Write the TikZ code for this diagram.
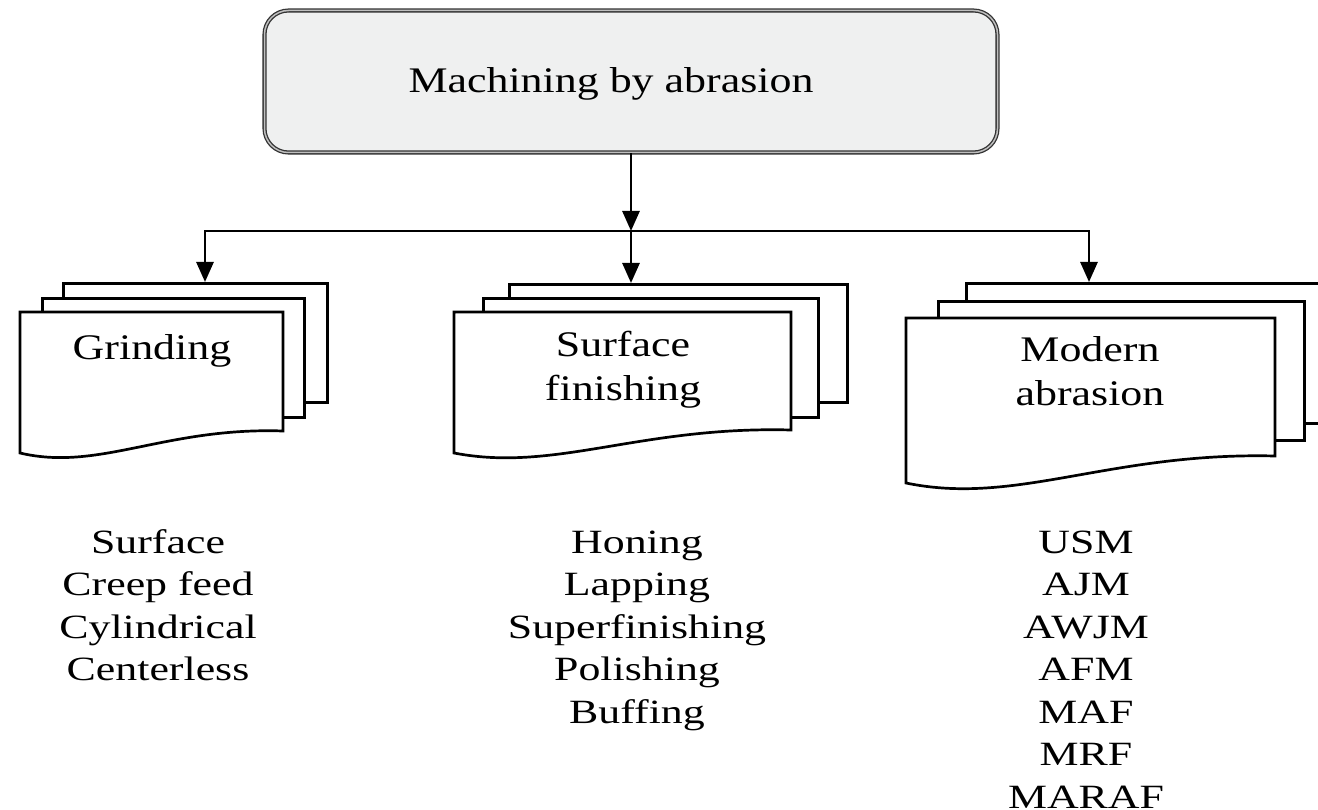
\documentclass[tikz,border=0pt]{standalone}
\usepackage{fontspec}
\setmainfont{Liberation Serif}[FakeStretch=1.29]
\newfontfamily\headfont{Liberation Serif}[FakeStretch=1.22]
\usetikzlibrary{arrows.meta}
\definecolor{boxfill}{HTML}{EFF0F0}

% front sheet of a document stack: left, top, right, bottom-right y, bottom-left y
\newcommand\frontsheet[5]{%
  \draw[page] (#1,#2) -- (#3,#2) -- (#3,#4)
    .. controls ({#1+0.55*(#3-#1)},{#4-4}) and ({#1+0.3*(#3-#1)},{#5+0.85*(#5-#4)}) .. (#1,#5) -- cycle;}

\begin{document}
\begin{tikzpicture}[x=1pt,y=-1pt,
  page/.style={draw=black, fill=white, line width=2.7pt, line join=miter},
  sheet/.style={page, inner sep=0pt, anchor=north west},
  topbox/.style={draw=black!80, double=gray!50, double distance=1.5pt, line width=1.3pt,
                 fill=boxfill, rounded corners=24pt, inner sep=0pt},
  conn/.style={line width=2.7pt, -{Triangle[length=20pt,width=17pt]}},
  headtext/.style={font=\headfont\fontsize{36}{44}\selectfont, align=center, anchor=base},
  listtext/.style={font=\fontsize{34}{42.5}\selectfont, align=center, anchor=base}]
\useasboundingbox (0,0) rectangle (1318,810);
\clip (0,0) rectangle (1318,810);

% root
\node[topbox, minimum width=733pt, minimum height=142pt] (top) at (631,81.5) {};
\node[headtext] (title) at (611,93) {Machining by abrasion};

% Grinding stack
\node[sheet, minimum width=264pt, minimum height=119pt] (g3) at (62,282) {};
\node[sheet, minimum width=262pt, minimum height=119pt] (g2) at (41,297) {};
\frontsheet{20}{312}{283}{431}{453}
\node[headtext] (gname) at (152,360) {Grinding};

% Surface finishing stack
\node[sheet, minimum width=338pt, minimum height=118pt] (s3) at (508,283) {};
\node[sheet, minimum width=335pt, minimum height=119pt] (s2) at (482,297) {};
\frontsheet{454}{312}{791}{430}{453}
\node[headtext] (sname) at (623,401) {Surface\\finishing};

% Modern abrasion stack
\node[sheet, minimum width=366pt, minimum height=140pt] (m3) at (965,282) {};
\node[sheet, minimum width=366pt, minimum height=139pt] (m2) at (937,300) {};
\frontsheet{906}{318}{1275}{456}{483}
\node[headtext] (mname) at (1090,406) {Modern\\abrasion};

% connectors
\coordinate (split) at (631,231);
\coordinate (gIn) at (205,282);
\coordinate (sIn) at (631,283);
\coordinate (mIn) at (1089,282);
\draw[conn] (top.south) -- (split);
\draw[conn] (split) -| (gIn);
\draw[conn] (split) -- (sIn);
\draw[conn] (split) -| (mIn);

% process lists (anchored at the baseline of their last line)
\node[listtext] (glist) at (158,680.5) {Surface\\Creep feed\\Cylindrical\\Centerless};
\node[listtext] (slist) at (637,723) {Honing\\Lapping\\Superfinishing\\Polishing\\Buffing};
\node[listtext] (mlist) at (1086,808) {USM\\AJM\\AWJM\\AFM\\MAF\\MRF\\MARAF};
\end{tikzpicture}
\end{document}
